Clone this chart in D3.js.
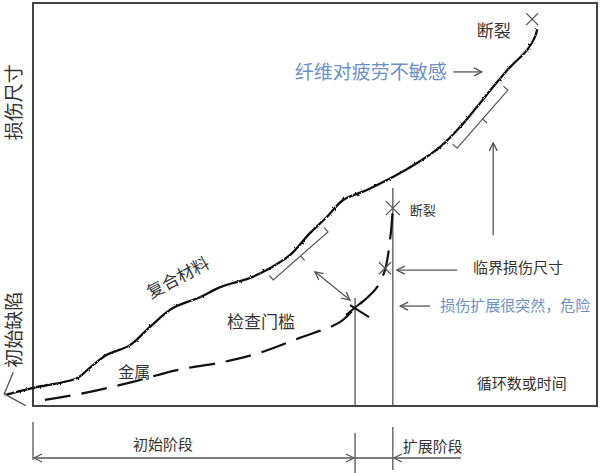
<!DOCTYPE html>
<html>
<head>
<meta charset="utf-8">
<script src="https://cdn.jsdelivr.net/npm/d3@7"></script>
<style>
  body { margin: 0; background: #fff; }
  svg { display: block; }
  text { font-family: "Noto Sans CJK SC", "Noto Sans", sans-serif; fill: #333; }
</style>
</head>
<body>
<svg id="chart" width="600" height="473"></svg>
<script>
// --- data (x: cycles / time, y: damage size, both 0-100 of the frame) ---
const compositeCurve = [
  [-5.0, 2.7], [0, 4.5], [7.8, 6.9], [9.6, 8.9], [13.1, 12.7], [17.2, 15.1],
  [20.7, 19.6], [24.8, 24.3], [29.6, 27.0], [33.2, 29.5], [38.5, 31.8],
  [42.0, 34.2], [45.6, 37.5], [49.1, 42.9], [52.1, 46.9], [55.0, 51.1],
  [59.2, 53.6], [63.8, 56.8], [68.1, 60.3], [72.2, 64.3], [75.7, 69.2],
  [78.7, 74.2], [81.6, 79.2], [84.6, 84.1], [87.6, 88.3], [89.0, 91.6],
  [89.4, 93.5],
];
const metalCurve = [
  [2.1, 1.5], [10.1, 3.5], [17.7, 6.0], [25.5, 8.9], [33.7, 10.9],
  [40.2, 13.2], [47.3, 16.9], [54.4, 20.8], [57.1, 24.3], [59.2, 26.8],
  [61.0, 29.5], [62.4, 33.7], [62.9, 37.0], [63.5, 43.7], [63.8, 49.1],
];
const compositeFailure = [88.5, 96.0];
const metalFailure = [63.8, 49.1];
const criticalPoint = [62.4, 34.2];
const thresholdPoint = [57.1, 24.3];
const phaseBounds = [0, 57.1, 63.8];
const phaseLabels = ["初始阶段", "扩展阶段"];
const guideTops = [26.8, 54.1]; // where the two vertical guides start
const brackets = [
  [[42.6, 31.3], [52.3, 43.2]],
  [[75.2, 64.0], [84.2, 78.4]],
];
const defectArrow = [[-3.5, 8.4], [-5.1, 3.0], [-1.3, 0.1]];

const width = 600, height = 473;
const marginTop = 3, marginRight = 3, marginBottom = 67, marginLeft = 33;
const blue = "#6b8fc7";
const grey = "#555";

const svg = d3.select("#chart");

const x = d3.scaleLinear().domain([0, 100]).range([marginLeft, width - marginRight]);
const y = d3.scaleLinear().domain([0, 100]).range([height - marginBottom, marginTop]);

// hand drawn wobble and open arrowheads
const defs = svg.append("defs");
const rough = defs.append("filter").attr("id", "rough")
  .attr("x", "-5%").attr("y", "-5%").attr("width", "110%").attr("height", "110%");
rough.append("feTurbulence").attr("type", "fractalNoise")
  .attr("baseFrequency", 0.35).attr("numOctaves", 2).attr("result", "noise");
rough.append("feDisplacementMap").attr("in", "SourceGraphic").attr("in2", "noise")
  .attr("scale", 2.4);

defs.append("marker").attr("id", "arrow")
  .attr("viewBox", "0 0 10 10").attr("refX", 9).attr("refY", 5)
  .attr("markerWidth", 10).attr("markerHeight", 10)
  .attr("markerUnits", "userSpaceOnUse").attr("orient", "auto-start-reverse")
  .append("path").attr("d", "M1,1 L9,5 L1,9")
  .attr("fill", "none").attr("stroke", grey).attr("stroke-width", 1.3);

// frame
svg.append("rect")
  .attr("x", x(0)).attr("y", y(100))
  .attr("width", x(100) - x(0)).attr("height", y(0) - y(100))
  .attr("fill", "none").attr("stroke", "#444").attr("stroke-width", 2);

const line = d3.line()
  .x((d) => x(d[0]))
  .y((d) => y(d[1]))
  .curve(d3.curveCatmullRom.alpha(0.5));

// vertical guides at threshold and failure
svg.selectAll("line.guide")
  .data(phaseBounds.slice(1))
  .join("line")
  .attr("class", "guide")
  .attr("x1", (d) => x(d)).attr("x2", (d) => x(d))
  .attr("y1", (d, i) => y(guideTops[i])).attr("y2", y(0))
  .attr("stroke", grey).attr("stroke-width", 1.3);

// composite curve
svg.append("path")
  .datum(compositeCurve)
  .attr("d", line)
  .attr("fill", "none")
  .attr("stroke", "#111")
  .attr("stroke-width", 2.3)
  .attr("filter", "url(#rough)");

// metal curve (dashed)
svg.append("path")
  .datum(metalCurve)
  .attr("d", line)
  .attr("fill", "none")
  .attr("stroke", "#111")
  .attr("stroke-width", 2.2)
  .attr("stroke-dasharray", "26 11");

// initial defect arrowhead
svg.append("path")
  .datum(defectArrow)
  .attr("d", d3.line().x((d) => x(d[0])).y((d) => y(d[1])))
  .attr("fill", "none").attr("stroke", grey).attr("stroke-width", 1.3);

// crosses
function cross(p, s, color, w) {
  const cx = x(p[0]), cy = y(p[1]);
  svg.append("path")
    .attr("d", `M${cx - s},${cy - s}L${cx + s},${cy + s}M${cx - s},${cy + s}L${cx + s},${cy - s}`)
    .attr("stroke", color).attr("stroke-width", w).attr("fill", "none");
}
cross(compositeFailure, 6, grey, 1.3);
cross(metalFailure, 7, grey, 1.3);
cross(criticalPoint, 6, grey, 1.3);
{
  const cx = x(thresholdPoint[0]), cy = y(thresholdPoint[1]);
  svg.append("path")
    .attr("d", `M${cx - 9},${cy + 7}L${cx + 8},${cy - 7}M${cx - 5},${cy - 3}L${cx + 14},${cy + 9}`)
    .attr("stroke", "#111").attr("stroke-width", 2).attr("fill", "none");
}

// inspection brackets: end ticks toward the curve, middle tick away
brackets.forEach(([a, b]) => {
  const x1 = x(a[0]), y1 = y(a[1]), x2 = x(b[0]), y2 = y(b[1]);
  const len = Math.hypot(x2 - x1, y2 - y1);
  const nx = (y2 - y1) / len, ny = -(x2 - x1) / len; // normal toward curve
  const t = 6;
  const mx = (x1 + x2) / 2, my = (y1 + y2) / 2;
  svg.append("path")
    .attr("d",
      `M${x1 + nx * t},${y1 + ny * t}L${x1},${y1}L${x2},${y2}L${x2 + nx * t},${y2 + ny * t}` +
      `M${mx},${my}L${mx - nx * t},${my - ny * t}`)
    .attr("fill", "none").attr("stroke", grey).attr("stroke-width", 1.2);
});

// annotation arrows
function arrow(p1, p2, both) {
  svg.append("line")
    .attr("x1", x(p1[0])).attr("y1", y(p1[1]))
    .attr("x2", x(p2[0])).attr("y2", y(p2[1]))
    .attr("stroke", grey).attr("stroke-width", 1.3)
    .attr("marker-end", "url(#arrow)")
    .attr("marker-start", both ? "url(#arrow)" : null);
}
arrow([50.0, 33.3], [56.2, 26.3], true);
arrow([81.6, 42.4], [81.6, 65.3]);
arrow([75.2, 33.7], [64.5, 33.7]);
arrow([70.4, 24.8], [65.1, 24.8]);
arrow([74.5, 82.9], [79.6, 82.9]);

// labels
const labels = [
  { text: "断裂", at: [78.7, 93.1], size: 17 },
  { text: "纤维对疲劳不敏感", at: [46.4, 82.9], size: 19, color: blue },
  { text: "断裂", at: [66.8, 48.6], size: 13 },
  { text: "临界损伤尺寸", at: [78.0, 34.2], size: 15 },
  { text: "损伤扩展很突然，危险", at: [72.2, 24.8], size: 15, color: blue },
  { text: "循环数或时间", at: [78.7, 5.5], size: 15 },
  { text: "检查门槛", at: [34.4, 20.8], size: 17 },
  { text: "金属", at: [15.1, 8.4], size: 16 },
];
svg.selectAll("text.label")
  .data(labels)
  .join("text")
  .attr("class", "label")
  .attr("x", (d) => x(d.at[0]))
  .attr("y", (d) => y(d.at[1]))
  .attr("dy", "0.35em")
  .style("font-size", (d) => d.size + "px")
  .style("fill", (d) => d.color || "#333")
  .text((d) => d.text);

svg.append("text")
  .attr("transform", `translate(${x(25.7)},${y(31.8)}) rotate(-28)`)
  .attr("text-anchor", "middle").attr("dy", "0.35em")
  .style("font-size", "17px")
  .text("复合材料");

// vertical axis labels
[["损伤尺寸", 75.4], ["初始缺陷", 18.9]].forEach(([t, v]) => {
  svg.append("text")
    .attr("transform", `translate(14,${y(v)}) rotate(-90)`)
    .attr("text-anchor", "middle").attr("dy", "0.35em")
    .style("font-size", "19px")
    .text(t);
});

// phase dimension lines below the frame
const dimY = y(0) + 52;
const tickSpan = [[16, 54], [27, 67], [21, 64]];
svg.selectAll("line.ptick")
  .data(phaseBounds)
  .join("line")
  .attr("class", "ptick")
  .attr("x1", (d) => x(d)).attr("x2", (d) => x(d))
  .attr("y1", (d, i) => y(0) + tickSpan[i][0])
  .attr("y2", (d, i) => y(0) + tickSpan[i][1])
  .attr("stroke", grey).attr("stroke-width", 1.3);

svg.append("line")
  .attr("x1", x(phaseBounds[0]) + 1).attr("x2", x(phaseBounds[1]) - 1)
  .attr("y1", dimY).attr("y2", dimY)
  .attr("stroke", grey).attr("stroke-width", 1.3)
  .attr("marker-start", "url(#arrow)").attr("marker-end", "url(#arrow)");
svg.append("line")
  .attr("x1", x(phaseBounds[1])).attr("x2", x(phaseBounds[2]))
  .attr("y1", dimY).attr("y2", dimY)
  .attr("stroke", grey).attr("stroke-width", 1.3);
svg.append("line")
  .attr("x1", x(phaseBounds[2]) + 68).attr("x2", x(phaseBounds[2]) + 1)
  .attr("y1", dimY).attr("y2", dimY)
  .attr("stroke", grey).attr("stroke-width", 1.3)
  .attr("marker-end", "url(#arrow)");

svg.append("text")
  .attr("x", (x(phaseBounds[0]) + x(phaseBounds[1])) / 2 - 31)
  .attr("y", dimY - 13).attr("dy", "0.35em")
  .attr("text-anchor", "middle")
  .style("font-size", "15px")
  .text(phaseLabels[0]);
svg.append("text")
  .attr("x", x(phaseBounds[2]) + 10)
  .attr("y", dimY - 11).attr("dy", "0.35em")
  .style("font-size", "15px")
  .text(phaseLabels[1]);
</script>
</body>
</html>
